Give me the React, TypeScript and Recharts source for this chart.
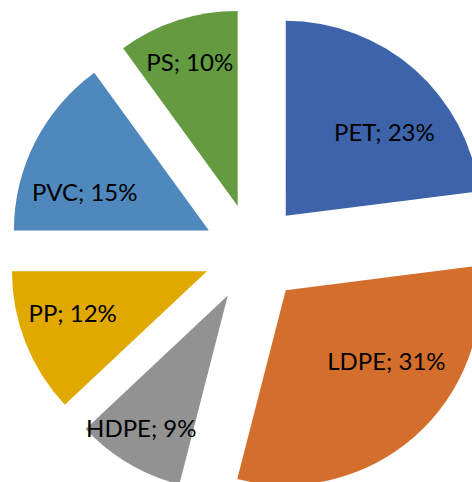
import { PieChart, Pie, Cell } from "recharts";

const materials = ["PET", "LDPE", "HDPE", "PP", "PVC", "PS"];
const shares = [23, 31, 9, 12, 15, 10];
const colors = ["#3D64AB", "#D46E2C", "#929292", "#E1A900", "#4E88BC", "#649A40"];

// label fine tuning (px), Excel's best-fit placement is not quite on the bisector
const LABEL_NUDGE: [number, number][] = [
  [11, 15],
  [13, -29],
  [-19, 18],
  [-11, -8],
  [-6, 21],
  [-7, -18],
];

const RADIUS = 195;
const EXPLODE = 49.5;
const RAD = Math.PI / 180;

const total = shares.reduce((a, b) => a + b, 0);
const data = materials.map((name, i) => ({ name, value: shares[i] }));

// mid angle in recharts convention (ccw from 3 o'clock), starting at 12 o'clock going clockwise
const midAngles = shares.map((v, i) => {
  const before = shares.slice(0, i).reduce((a, b) => a + b, 0);
  return 90 - ((before + v / 2) / total) * 360;
});

const offset = (i: number, dist: number) => ({
  dx: dist * Math.cos(midAngles[i] * RAD),
  dy: -dist * Math.sin(midAngles[i] * RAD),
});

const renderLabel = (props: any) => {
  const { cx, cy, midAngle, index, outerRadius } = props;
  const r = EXPLODE + outerRadius * 0.68;
  const x = cx + r * Math.cos(-midAngle * RAD) + LABEL_NUDGE[index][0];
  const y = cy + r * Math.sin(-midAngle * RAD) + LABEL_NUDGE[index][1];
  return (
    <text
      x={x}
      y={y}
      fill="#000"
      fontSize={24}
      fontFamily="Lato"
      textAnchor="middle"
      dominantBaseline="central"
    >
      {`${materials[index]}; ${shares[index]}%`}
    </text>
  );
};

const App = () => {
  return (
    <div style={{ position: "absolute", left: 0, top: 0, width: 472, height: 482, overflow: "hidden", background: "#fff" }}>
      <PieChart width={472} height={482} margin={{ top: 0, right: 0, bottom: 0, left: 0 }}>
        <Pie
          data={data}
          dataKey="value"
          nameKey="name"
          cx={253}
          cy={253}
          outerRadius={RADIUS}
          startAngle={90}
          endAngle={-270}
          stroke="none"
          label={renderLabel}
          labelLine={false}
          isAnimationActive={false}
        >
          {data.map((d, i) => {
            const { dx, dy } = offset(i, EXPLODE);
            return <Cell key={d.name} fill={colors[i]} transform={`translate(${dx}, ${dy})`} />;
          })}
        </Pie>
      </PieChart>
    </div>
  );
};

export default App;
